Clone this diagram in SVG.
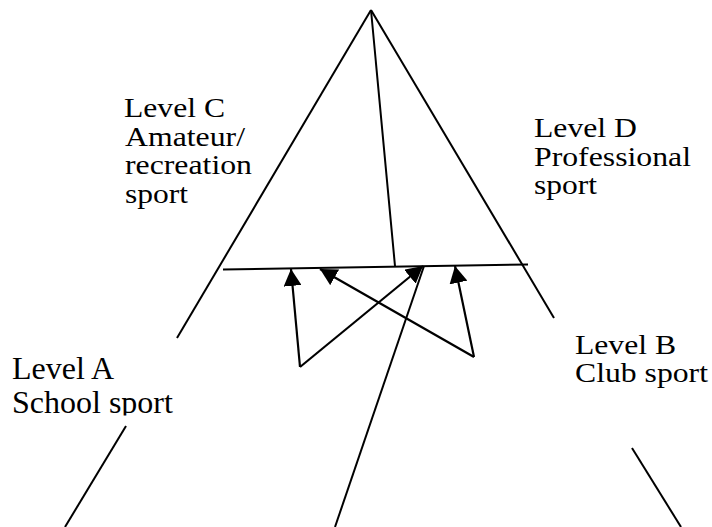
<svg xmlns="http://www.w3.org/2000/svg" width="712" height="527" viewBox="0 0 712 527">
<style>
.ln{stroke:#000;stroke-width:2;fill:none}
.ar{stroke:#000;stroke-width:2.2;fill:none;marker-end:url(#ah)}
.t{font-family:"Liberation Serif","Times New Roman",serif;fill:#000;font-size:28px}
.a{font-family:"Liberation Serif","Times New Roman",serif;fill:#000;font-size:32px}
</style>
<defs>
<marker id="ah" markerUnits="userSpaceOnUse" markerWidth="18" markerHeight="18" viewBox="0 0 16 16" refX="15" refY="8" orient="auto">
<path d="M0,0 L15,8 L0,16 Z" fill="#000"/>
</marker>
<clipPath id="clipA"><rect x="0" y="340" width="200" height="75.5"/></clipPath>
</defs>
<rect width="712" height="527" fill="#fff"/>
<g id="connectors">
<line class="ln" x1="371" y1="10" x2="177" y2="338"/>
<line class="ln" x1="126" y1="426" x2="65" y2="527"/>
<line class="ln" x1="371" y1="10" x2="554" y2="318"/>
<line class="ln" x1="632" y1="448" x2="681" y2="527"/>
<line class="ln" x1="371" y1="10" x2="395" y2="266"/>
<line class="ln" x1="223" y1="269.5" x2="528" y2="264.5"/>
<line class="ln" x1="424" y1="266" x2="335" y2="527"/>
<line class="ar" x1="300" y1="367" x2="291" y2="269"/>
<line class="ar" x1="300" y1="367" x2="423" y2="266"/>
<line class="ar" x1="474" y1="357" x2="455" y2="266"/>
<line class="ar" x1="474" y1="357" x2="320" y2="269"/>
</g>
<g id="levelC">
<text class="t" x="124" y="117" textLength="101" lengthAdjust="spacingAndGlyphs">Level C</text>
<text class="t" x="125" y="146" textLength="120" lengthAdjust="spacingAndGlyphs">Amateur/</text>
<text class="t" x="125" y="174" textLength="127" lengthAdjust="spacingAndGlyphs">recreation</text>
<text class="t" x="125" y="203" textLength="63" lengthAdjust="spacingAndGlyphs">sport</text>
</g>
<g id="levelD">
<text class="t" x="534" y="137" textLength="103" lengthAdjust="spacingAndGlyphs">Level D</text>
<text class="t" x="534" y="166" textLength="157" lengthAdjust="spacingAndGlyphs">Professional</text>
<text class="t" x="534" y="194" textLength="63" lengthAdjust="spacingAndGlyphs">sport</text>
</g>
<g id="levelB">
<text class="t" x="575" y="354" textLength="101" lengthAdjust="spacingAndGlyphs">Level B</text>
<text class="t" x="575" y="382" textLength="133" lengthAdjust="spacingAndGlyphs">Club sport</text>
</g>
<g id="levelA" clip-path="url(#clipA)">
<text class="a" x="12" y="379">Level A</text>
<text class="a" x="12" y="413">School sport</text>
</g>
</svg>
